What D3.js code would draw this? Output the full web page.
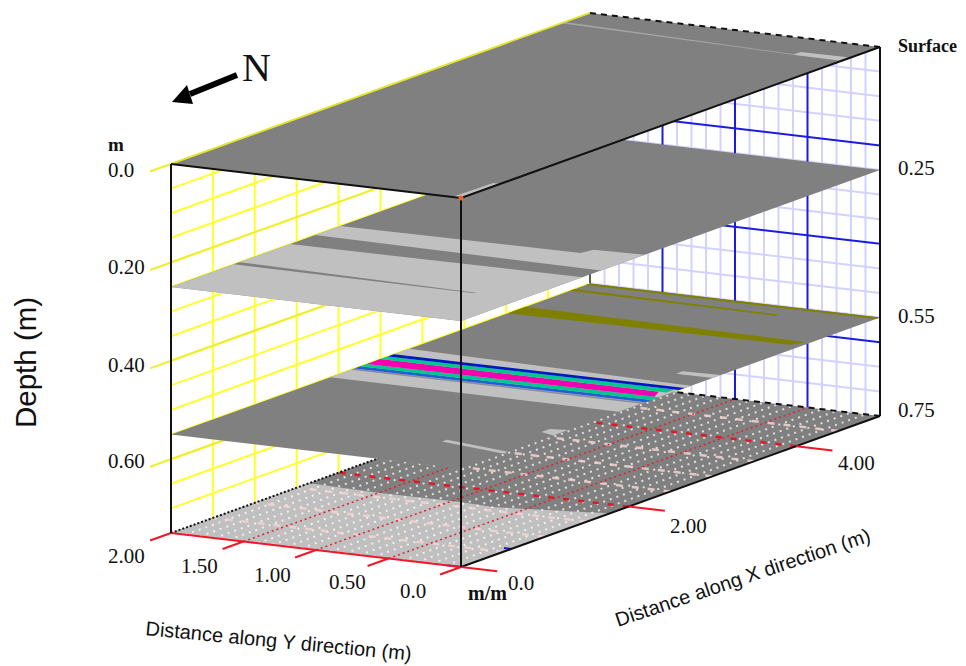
<!DOCTYPE html>
<html>
<head>
<meta charset="utf-8">
<script src="https://cdnjs.cloudflare.com/ajax/libs/d3/7.8.5/d3.min.js"></script>
<style>
  html, body { margin: 0; background: #fff; }
  svg { display: block; }
  text { fill: #111; }
</style>
</head>
<body>
<script>
// grid steps and tick values, in metres
var xTicks = [0, 2, 4];
var yTicks = [0, 0.5, 1, 1.5, 2];
var depthTicks = [0, 0.2, 0.4, 0.6];
var xGrid = [0.5, 1, 1.5, 2, 2.5, 3, 3.5, 4, 4.5];
var yMinor = [0.1, 0.2, 0.3, 0.4, 0.6, 0.7, 0.8, 0.9, 1.1, 1.2, 1.3, 1.4, 1.6, 1.7, 1.8, 1.9];
var yMajor = [0.5, 1, 1.5];
var depthGrid = [0.05, 0.1, 0.15, 0.2, 0.25, 0.3, 0.35, 0.4, 0.45, 0.5, 0.55, 0.6, 0.65, 0.7];
var depthMajor = [0.2, 0.4, 0.6];
var floorDotRows = [0.1, 0.2, 0.3, 0.4, 0.5, 0.6, 0.7, 0.8, 0.9, 1, 1.1, 1.2, 1.3, 1.4, 1.5, 1.6, 1.7, 1.8, 1.9];
var floorDashRows = [0.5, 1, 1.5, 2.5, 3, 3.5, 4.5];

// patches per depth slice: kind, then [x, y] corners in metres
var floorPatches = [
  ['light', [[0, 0], [1.78, 0], [1.73, 0.16], [1.59, 0.7], [1.62, 0.94], [1.61, 1.49], [1.65, 2], [0, 2]]]
];
var slice55 = [
  ['light', [[0.5, 0], [0.56, 0], [0.68, 0.49], [0.62, 0.49]]],
  ['light', [[1.1, 0], [1.28, 0], [1.25, 0.11], [1.15, 0.11]]],
  ['light', [[1.88, 0], [2.74, 0], [2.84, 2], [1.9, 2]]],
  ['mid', [[2.15, 0], [2.19, 0], [2.19, 2], [2.15, 2]]],
  ['blue2', [[2.2, 0], [2.27, 0], [2.26, 2], [2.19, 2]]],
  ['green', [[2.27, 0], [2.36, 0], [2.34, 2], [2.26, 2]]],
  ['magenta', [[2.36, 0.03], [2.5, 0.08], [2.5, 2], [2.34, 2]]],
  ['green', [[2.5, 0.03], [2.6, 0.03], [2.59, 2], [2.5, 2]]],
  ['blue1', [[2.6, 0], [2.67, 0], [2.66, 2], [2.59, 2]]],
  ['light', [[3, 0], [3.1, 0], [3.08, 0.25], [3, 0.25]]],
  ['olive', [[4.06, 0.08], [4.17, 0.03], [4.23, 2], [4.02, 2]]],
  ['olive', [[4.74, 0.57], [4.78, 0.57], [4.82, 2], [4.76, 2]]],
  ['olive', [[4.95, 0], [5, 0], [5, 2], [4.95, 2]]]
];
var slice25 = [
  ['light', [[0, 0], [1.45, 0], [1.42, 2], [0, 2]]],
  ['light', [[1.67, 0], [2.19, 0], [2.17, 0.34], [2.05, 0.36], [2.02, 2], [1.72, 2]]],
  ['dark', [[0.73, 0.33], [0.75, 0.33], [0.82, 2], [0.75, 2]]]
];
var slice0 = [
  ['light', [[0, 0], [0.47, 0], [0.47, 0.05], [0, 0.06]]],
  ['light', [[4.54, 0.02], [4.65, 0.02], [4.64, 0.34], [4.55, 0.34]]],
  ['midline', [[4.55, 0.34], [4.57, 0.34], [4.7, 2], [4.66, 2]]]
];

var colors = {
  dark: '#808080', light: '#c0c0c0', mid: '#8c8c9c', midline: '#a6a6a6', olive: '#808000', magenta: '#f500b0',
  green: '#00c88c', blue1: '#0018c0', blue2: '#2060d0'
};

var width = 966, height = 666;

// oblique projection, one scale per screen contribution
var xToLeft = d3.scaleLinear().domain([0, 5]).range([0, 419]);
var xToTop = d3.scaleLinear().domain([0, 5]).range([0, -151]);
var yToLeft = d3.scaleLinear().domain([0, 2]).range([0, -290]);
var yToTop = d3.scaleLinear().domain([0, 2]).range([0, -34]);
var depthToTop = d3.scaleLinear().domain([0, 0.75]).range([0, 369]);

var project = function(x, y, z) {
  return [461 + xToLeft(x) + yToLeft(y), 198 + xToTop(x) + yToTop(y) + depthToTop(z)];
};

var line = d3.line();

var svg = d3.select('body').append('svg').attr('width', width).attr('height', height);

var seg = function(p0, p1, color, w, dash) {
  var path = svg.append('path')
    .attr('d', line([project(p0[0], p0[1], p0[2]), project(p1[0], p1[1], p1[2])]))
    .attr('fill', 'none').attr('stroke', color).attr('stroke-width', w);
  if (dash) { path.attr('stroke-dasharray', dash); }
  return path;
};

var plane = function(z, fill) {
  svg.append('path')
    .attr('d', line([[0, 0], [5, 0], [5, 2], [0, 2]].map(function(c) { return project(c[0], c[1], z); })) + 'Z')
    .attr('fill', fill);
};

var patches = function(list, z) {
  list.forEach(function(p) {
    svg.append('path')
      .attr('d', line(p[1].map(function(c) { return project(c[0], c[1], z); })) + 'Z')
      .attr('fill', colors[p[0]]);
  });
};

// back wall, x = 5
yMinor.forEach(function(y) { seg([5, y, 0], [5, y, 0.75], '#d2d2ff', 2); });
depthGrid.forEach(function(z) {
  if (depthMajor.indexOf(z) < 0) { seg([5, 0, z], [5, 2, z], '#d2d2ff', 2); }
});
yMajor.forEach(function(y) { seg([5, y, 0], [5, y, 0.75], '#1c1ce0', 2); });
depthMajor.forEach(function(z) { seg([5, 0, z], [5, 2, z], '#1c1ce0', 2); });
seg([5, 2, 0], [5, 2, 0.75], '#222', 1.5);

// left wall, y = 2
xGrid.forEach(function(x) { seg([x, 2, 0], [x, 2, 0.75], '#ffff30', 2); });
depthGrid.forEach(function(z) { seg([0, 2, z], [5, 2, z], '#ffff30', 2); });
depthTicks.forEach(function(z) { seg([-0.25, 2, z], [5, 2, z], '#eeee30', 2); });

// floor
plane(0.75, colors.dark);
patches(floorPatches, 0.75);
floorDotRows.forEach(function(y) {
  if (yMajor.indexOf(y) < 0) { seg([0, y, 0.75], [5, y, 0.75], '#ffffff', 2, '2 5').attr('opacity', 0.75); }
});
floorDashRows.forEach(function(x) {
  seg([x, 0, 0.75], [x, 2, 0.75], '#f6d2d2', 2.5, '7 9').attr('opacity', 0.85);
});
yMajor.forEach(function(y) {
  seg([0, y, 0.75], [5, y, 0.75], '#e02030', 1.5, '2 3');
});
xTicks.slice(1).forEach(function(x) {
  seg([x, 0, 0.75], [x, 2, 0.75], '#e01828', 2.5, '6 9');
});
seg([0.6, 0, 0.75], [0.6, 0.05, 0.75], '#1c1ce0', 2);
seg([0, 0, 0.75], [0, 0.1, 0.75], '#1c1ce0', 2);

// floor outline and red ticks
seg([0, 2, 0.75], [5, 2, 0.75], '#111', 2, '2 2');
seg([0, 0, 0.75], [5, 0, 0.75], '#111', 2);
seg([5, 0, 0.75], [5, 2, 0.75], '#111', 2, '6 5');
seg([0, 0, 0.75], [0, 2, 0.75], '#f01828', 2);
yTicks.forEach(function(y) { seg([-0.25, y, 0.75], [0, y, 0.75], '#f01828', 2); });
xTicks.forEach(function(x) { seg([x, -0.25, 0.75], [x, 0, 0.75], '#f01828', 2); });

// depth slices, deepest first so the upper ones hide what is under them
plane(0.55, colors.dark);
patches(slice55, 0.55);
plane(0.25, colors.dark);
patches(slice25, 0.25);
plane(0, colors.dark);
patches(slice0, 0);

// box edges
seg([0, 2, 0], [5, 2, 0], '#e4e430', 1.5);
seg([5, 0, 0], [5, 2, 0], '#111', 2, '6 5');
seg([0, 0, 0], [0, 2, 0], '#111', 2);
seg([0, 0, 0], [5, 0, 0], '#111', 2);
seg([0, 2, 0], [0, 2, 0.75], '#111', 2);
seg([0, 0, 0], [0, 0, 0.75], '#111', 2);
seg([5, 0, 0], [5, 0, 0.75], '#111', 2);

var origin = project(0, 0, 0);
svg.append('circle').attr('cx', origin[0]).attr('cy', origin[1]).attr('r', 2.5).attr('fill', '#f06020');

// north arrow
svg.append('path').attr('d', line([[237, 75], [190, 94]])).attr('stroke', '#000').attr('stroke-width', 6);
svg.append('path').attr('d', line([[172, 102], [187, 85], [193, 104]]) + 'Z').attr('fill', '#000');

var serif = '"Liberation Serif", serif';
var sans = '"Liberation Sans", sans-serif';

var label = function(str, px, py, size, font, weight, rotate) {
  var t = svg.append('text').text(str).attr('font-family', font).attr('font-size', size);
  if (weight) { t.attr('font-weight', weight); }
  if (rotate) {
    t.attr('transform', 'translate(' + px + ',' + py + ') rotate(' + rotate + ')');
  } else {
    t.attr('x', px).attr('y', py);
  }
  return t;
};

var leftLabels = ['0.0', '0.20', '0.40', '0.60'];
var leftLabelY = [177, 274, 372, 468];
leftLabels.forEach(function(s, i) { label(s, 108, leftLabelY[i], 21, serif); });

var yLabels = ['2.00', '1.50', '1.00', '0.50', '0.0'];
var yLabelX = [108, 181, 254, 329, 400];
var yLabelY = [563, 573, 582, 589, 598];
yLabels.forEach(function(s, i) { label(s, yLabelX[i], yLabelY[i], 21, serif); });

var xLabels = ['0.0', '2.00', '4.00'];
var xLabelX = [508, 670, 838];
var xLabelY = [590, 533, 470];
xLabels.forEach(function(s, i) { label(s, xLabelX[i], xLabelY[i], 21, serif); });

var rightLabels = ['0.25', '0.55', '0.75'];
var rightLabelY = [175, 323, 417];
rightLabels.forEach(function(s, i) { label(s, 898, rightLabelY[i], 21, serif); });

label('Surface', 898, 52, 18, serif, 'bold');
label('m', 108, 151, 19, serif, 'bold');
label('m/m', 468, 600, 20, serif, 'bold');
label('N', 242, 81, 40, serif);
label('Depth (m)', 36, 428, 29.5, sans, null, -90);
label('Distance along Y direction (m)', 145, 635, 20, sans, null, 5.5);
label('Distance along X direction (m)', 618, 627, 20, sans, null, -18.7);
</script>
</body>
</html>
